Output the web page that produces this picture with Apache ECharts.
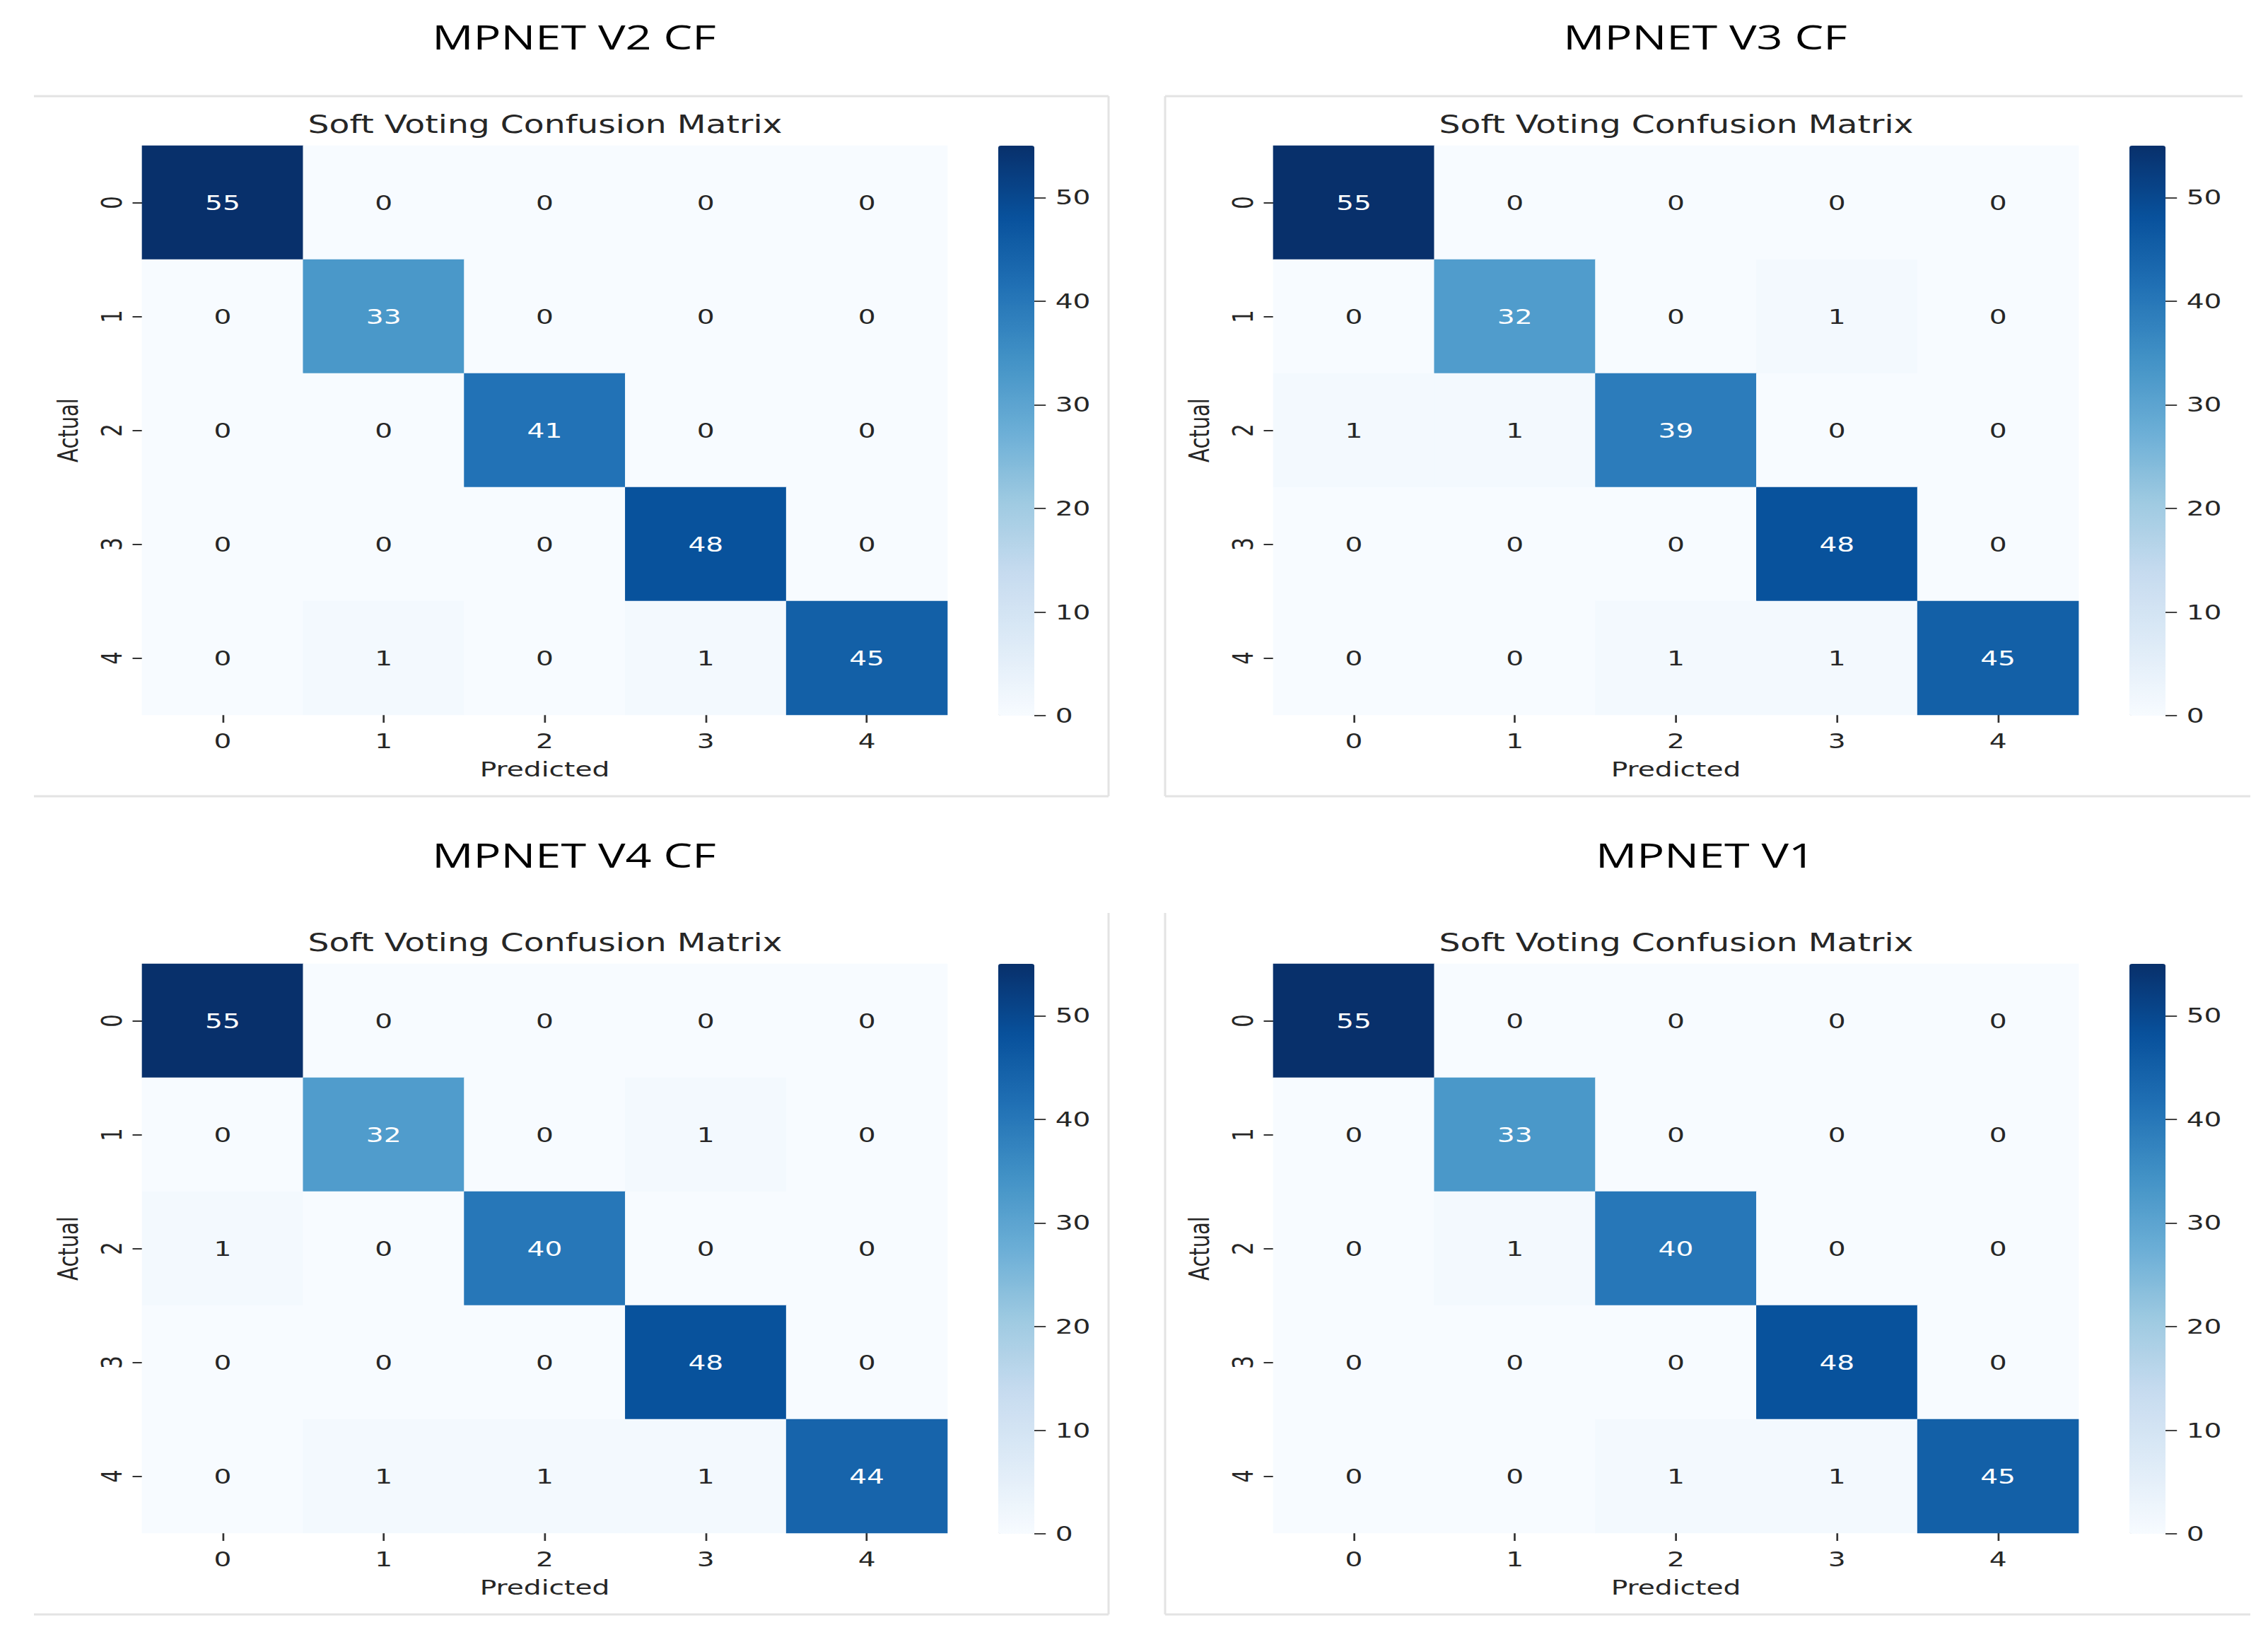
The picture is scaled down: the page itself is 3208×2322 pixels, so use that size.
<!DOCTYPE html>
<html>
<head>
<meta charset="utf-8">
<script src="https://cdn.jsdelivr.net/npm/echarts@6/dist/echarts.min.js"></script>
<style>
html,body{margin:0;padding:0;background:#fff;overflow:hidden;}
#main{position:absolute;left:0;top:0;height:2322px;transform-origin:0 0;background:#fff;}
</style>
</head>
<body>
<div id="main"></div>
<script>
// ---------- data ----------
const panelTitles = ['MPNET V2 CF', 'MPNET V3 CF', 'MPNET V4 CF', 'MPNET V1'];
const subTitle = 'Soft Voting Confusion Matrix';
const classLabels = ['0', '1', '2', '3', '4'];
const xAxisName = 'Predicted';
const yAxisName = 'Actual';
const colorbarTickMax = 50;   // last labelled colorbar tick
const colorbarTickStep = 10;
const colorMin = 0;
const colorMax = 55;

const mpnetV2 = [
  [55, 0, 0, 0, 0],
  [0, 33, 0, 0, 0],
  [0, 0, 41, 0, 0],
  [0, 0, 0, 48, 0],
  [0, 1, 0, 1, 45]
];
const mpnetV3 = [
  [55, 0, 0, 0, 0],
  [0, 32, 0, 1, 0],
  [1, 1, 39, 0, 0],
  [0, 0, 0, 48, 0],
  [0, 0, 1, 1, 45]
];
const mpnetV4 = [
  [55, 0, 0, 0, 0],
  [0, 32, 0, 1, 0],
  [1, 0, 40, 0, 0],
  [0, 0, 0, 48, 0],
  [0, 1, 1, 1, 44]
];
const mpnetV1 = [
  [55, 0, 0, 0, 0],
  [0, 33, 0, 0, 0],
  [0, 1, 40, 0, 0],
  [0, 0, 0, 48, 0],
  [0, 0, 1, 1, 45]
];
const matrices = [mpnetV2, mpnetV3, mpnetV4, mpnetV1];

// seaborn / matplotlib "Blues"
const blues = ['#f7fbff', '#deebf7', '#c6dbef', '#9ecae1', '#6baed6', '#4292c6', '#2171b5', '#08519c', '#08306b'];

// ---------- layout (reference is horizontally stretched) ----------
const S = 1.35;
const W = 3208 / S;
const fx = x => x / S;
const el = document.getElementById('main');
el.style.width = W + 'px';
el.style.transform = 'scaleX(' + S + ')';

const offX = [0, 1600, 0, 1600];
const offY = [0, 0, 1157, 1157];
const FONT = 'DejaVu Sans';
const TXT = '#262626';

const BAR_TOP = 206, BAR_H = 806;
const tickAxisH = BAR_H * (colorbarTickMax - colorMin) / (colorMax - colorMin);

const titles = [], grids = [], xAxes = [], yAxes = [], series = [], visualMaps = [], graphics = [];

matrices.forEach((m, i) => {
  const dx = offX[i], dy = offY[i];
  titles.push({
    text: panelTitles[i], left: fx(812 + dx), top: 27 + dy, textAlign: 'center', padding: 0,
    textStyle: { fontFamily: 'Open Sans', fontSize: 48, fontWeight: 'normal', color: '#000' }
  });
  titles.push({
    text: subTitle, left: fx(771 + dx), top: 158 + dy, textAlign: 'center', padding: 0,
    textStyle: { fontFamily: FONT, fontSize: 35, fontWeight: 'normal', color: TXT }
  });
  // heatmap grid
  grids.push({ left: fx(201 + dx), top: 206 + dy, width: fx(1139), height: 805 });
  xAxes.push({
    type: 'category', gridIndex: i, data: classLabels, position: 'bottom',
    axisLine: { show: false }, splitLine: { show: false },
    axisTick: { show: true, alignWithLabel: true, length: 11, lineStyle: { color: '#333', width: 2 } },
    axisLabel: { margin: 22, fontSize: 29, fontFamily: FONT, color: TXT },
    name: xAxisName, nameLocation: 'middle', nameGap: 62,
    nameTextStyle: { fontSize: 29, fontFamily: FONT, color: TXT }
  });
  yAxes.push({
    type: 'category', gridIndex: i, data: classLabels, inverse: true,
    axisLine: { show: false }, splitLine: { show: false },
    axisTick: { show: true, alignWithLabel: true, length: 10, lineStyle: { color: '#333', width: 2 } },
    axisLabel: { rotate: 90, margin: 17, fontSize: 29, fontFamily: FONT, color: TXT },
    name: yAxisName, nameLocation: 'middle', nameGap: 63, nameRotate: 90,
    nameTextStyle: { fontSize: 29, fontFamily: FONT, color: TXT }
  });
  const data = [];
  m.forEach((row, r) => row.forEach((v, c) => {
    data.push({ value: [c, r, v], label: { color: v >= 25 ? '#ffffff' : TXT } });
  }));
  series.push({
    type: 'heatmap', xAxisIndex: i, yAxisIndex: i, data: data,
    label: { show: true, fontSize: 29, fontFamily: FONT },
    itemStyle: { borderWidth: 0 },
    emphasis: { disabled: true }
  });
  visualMaps.push({
    type: 'continuous', seriesIndex: i, min: colorMin, max: colorMax,
    calculable: false, orient: 'vertical', padding: 0,
    left: fx(1412 + dx), top: BAR_TOP + dy, itemWidth: fx(51), itemHeight: BAR_H,
    inRange: { color: blues }, hoverLink: false
  });
});

// colorbar tick axes (cover 0..50 of the 0..55 bar)
matrices.forEach((m, i) => {
  const dx = offX[i], dy = offY[i];
  const gi = 4 + i;
  grids.push({ left: fx(1412 + dx), top: BAR_TOP + BAR_H - tickAxisH + dy, width: fx(51), height: tickAxisH });
  xAxes.push({ type: 'category', gridIndex: gi, show: false, data: [''] });
  yAxes.push({
    type: 'value', gridIndex: gi, position: 'right', min: colorMin, max: colorbarTickMax, interval: colorbarTickStep,
    z: 20,
    axisLine: { show: false, onZero: false }, splitLine: { show: false },
    axisTick: { show: true, inside: false, length: 12, lineStyle: { color: '#444', width: 2 } },
    axisLabel: { margin: 22, fontSize: 29, fontFamily: FONT, color: TXT }
  });
});

// panel frame lines (screenshot borders)
const BORDER = '#e3e3e3';
function hLine(x1, x2, y) {
  graphics.push({ type: 'line', silent: true, z: 100, shape: { x1: fx(x1), y1: y, x2: fx(x2), y2: y }, style: { stroke: BORDER, lineWidth: 3 } });
}
function vLine(x, y1, y2) {
  graphics.push({ type: 'line', silent: true, z: 100, shape: { x1: fx(x), y1: y1, x2: fx(x), y2: y2 }, style: { stroke: BORDER, lineWidth: 3 / S } });
}
hLine(48, 1568, 136); vLine(1568, 136, 1126); hLine(48, 1568, 1126);
hLine(1648, 3172, 136); vLine(1648, 136, 1126); hLine(1648, 3183, 1126);
vLine(1568, 1291, 2283); hLine(48, 1568, 2283);
vLine(1648, 1291, 2283); hLine(1648, 3183, 2283);

const chart = echarts.init(el, null, { renderer: 'svg' });
chart.setOption({
  backgroundColor: '#ffffff',
  animation: false,
  title: titles,
  grid: grids,
  xAxis: xAxes,
  yAxis: yAxes,
  visualMap: visualMaps,
  series: series,
  graphic: { elements: graphics }
});
</script>
</body>
</html>
